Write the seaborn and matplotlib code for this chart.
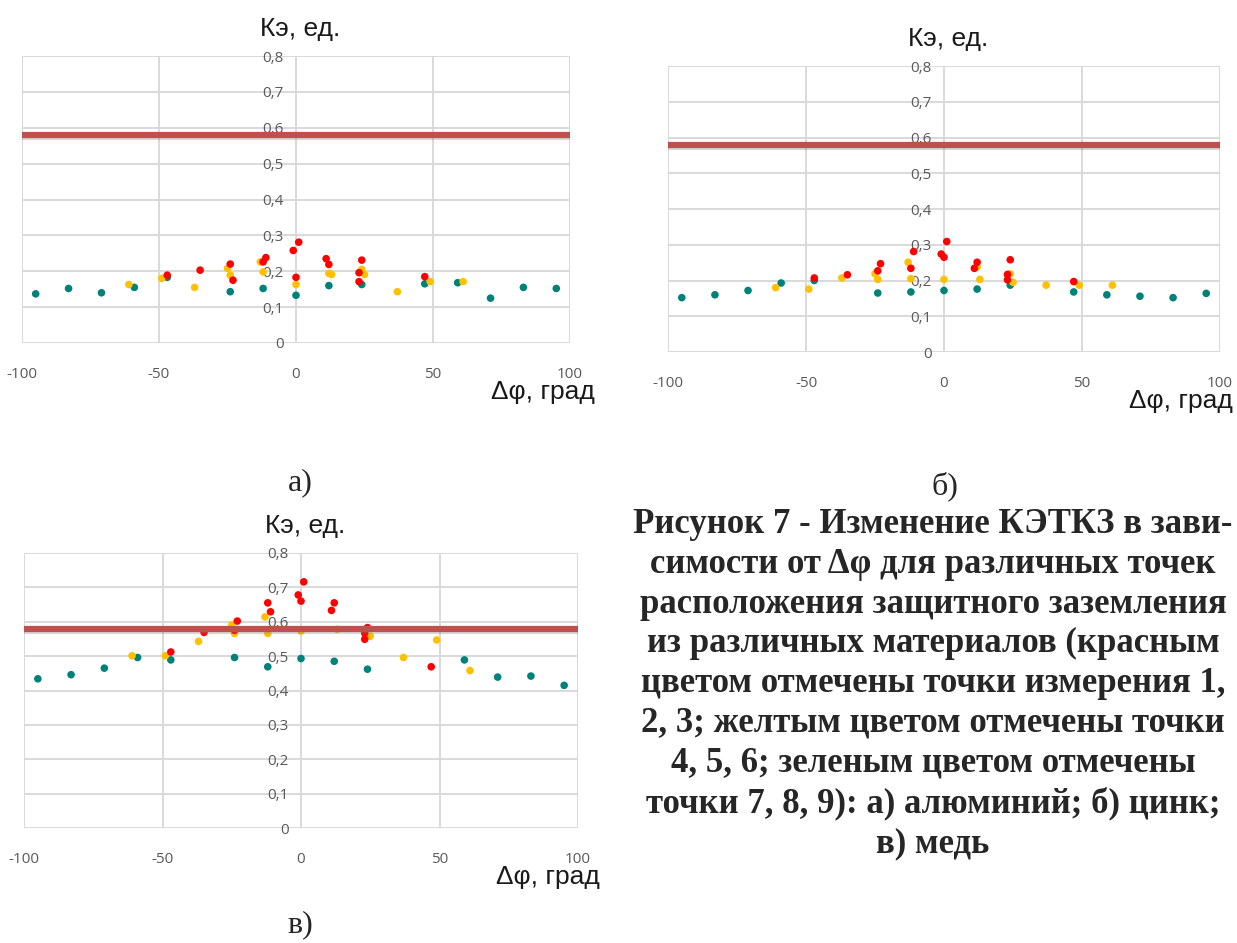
import matplotlib
matplotlib.use("Agg")
import matplotlib.pyplot as plt
import matplotlib.patheffects as pe
from matplotlib.ticker import FuncFormatter
import seaborn as sns
import pandas as pd

sns.set_theme(style="white")
plt.rcParams['font.family'] = ['Liberation Sans', 'DejaVu Sans']
plt.rcParams['axes.unicode_minus'] = False

# ---------------- data ----------------
# panel a) aluminium
a_green_x = [-95, -83, -71, -59, -47, -24, -12, 0, 12, 24, 47, 59, 71, 83, 95]
a_green_y = [0.137, 0.152, 0.140, 0.155, 0.183, 0.143, 0.152, 0.133, 0.160, 0.163, 0.165, 0.168, 0.125, 0.155, 0.152]
a_yel_x = [-61, -49, -37, -25, -24, -13, -12, 0, 12, 13, 24, 25, 37, 49, 61]
a_yel_y = [0.163, 0.180, 0.155, 0.208, 0.189, 0.226, 0.198, 0.163, 0.194, 0.191, 0.205, 0.191, 0.143, 0.171, 0.171]
a_red_x = [-47, -35, -24, -23, -12, -11, -1, 1, 0, 11, 12, 24, 23, 23, 47]
a_red_y = [0.189, 0.203, 0.220, 0.175, 0.226, 0.238, 0.258, 0.281, 0.183, 0.235, 0.219, 0.231, 0.196, 0.171, 0.185]

# panel б) zinc
b_green_x = [-95, -83, -71, -59, -47, -24, -12, 0, 12, 24, 47, 59, 71, 83, 95]
b_green_y = [0.152, 0.160, 0.172, 0.193, 0.200, 0.165, 0.168, 0.172, 0.176, 0.187, 0.168, 0.160, 0.156, 0.152, 0.164]
b_yel_x = [-61, -49, -37, -25, -24, -13, -12, 0, 12, 13, 24, 25, 37, 49, 61]
b_yel_y = [0.180, 0.176, 0.207, 0.219, 0.203, 0.251, 0.205, 0.203, 0.238, 0.203, 0.219, 0.195, 0.187, 0.187, 0.187]
b_red_x = [-47, -35, -24, -23, -12, -11, -1, 0, 1, 11, 12, 23, 23, 24, 47]
b_red_y = [0.207, 0.216, 0.227, 0.247, 0.234, 0.281, 0.274, 0.265, 0.309, 0.234, 0.251, 0.217, 0.202, 0.258, 0.197]

# panel в) copper
c_green_x = [-95, -83, -71, -59, -47, -24, -12, 0, 12, 24, 59, 71, 83, 95]
c_green_y = [0.434, 0.446, 0.465, 0.496, 0.489, 0.496, 0.469, 0.493, 0.485, 0.462, 0.489, 0.439, 0.442, 0.415]
c_yel_x = [-61, -49, -37, -25, -24, -13, -12, 0, 13, 25, 37, 49, 61]
c_yel_y = [0.501, 0.501, 0.543, 0.591, 0.566, 0.614, 0.566, 0.573, 0.578, 0.558, 0.496, 0.547, 0.458]
c_red_x = [-47, -35, -24, -23, -12, -11, -1, 0, 1, 11, 12, 23, 23, 24, 47]
c_red_y = [0.512, 0.569, 0.575, 0.602, 0.655, 0.629, 0.678, 0.660, 0.716, 0.633, 0.655, 0.567, 0.549, 0.583, 0.469]

limit_value = 0.58
x_ticks = [-100, -50, 0, 50, 100]
y_ticks = [0, 0.1, 0.2, 0.3, 0.4, 0.5, 0.6, 0.7, 0.8]
y_title = "Кэ, ед."
x_title = "Δφ, град"
panel_labels = ["а)", "б)", "в)"]
caption = ("Рисунок 7 - Изменение КЭТКЗ в зави-\n"
           "симости от Δφ для различных точек\n"
           "расположения защитного заземления\n"
           "из различных материалов (красным\n"
           "цветом отмечены точки измерения 1,\n"
           "2, 3; желтым цветом отмечены точки\n"
           "4, 5, 6; зеленым цветом отмечены\n"
           "точки 7, 8, 9): а) алюминий; б) цинк;\n"
           "в) медь")

palette = {"green": "#00827A", "yellow": "#FFC000", "red": "#FF0000"}


def make_df(gx, gy, yx, yy, rx, ry):
    rows = []
    for grp, xs, ys in (("green", gx, gy), ("yellow", yx, yy), ("red", rx, ry)):
        for x, y in zip(xs, ys):
            rows.append({"dphi": x, "k": y, "grp": grp})
    return pd.DataFrame(rows)


panels = [
    make_df(a_green_x, a_green_y, a_yel_x, a_yel_y, a_red_x, a_red_y),
    make_df(b_green_x, b_green_y, b_yel_x, b_yel_y, b_red_x, b_red_y),
    make_df(c_green_x, c_green_y, c_yel_x, c_yel_y, c_red_x, c_red_y),
]

W, H = 1237, 943
fig = plt.figure(figsize=(W / 100, H / 100), dpi=100)
fig.patch.set_facecolor("white")

# pixel boxes: (left, right, top(0.8), bottom(0))
boxes = [(22, 570, 56, 343), (668, 1220, 66, 352), (24, 578, 553, 828)]
xlabel_right = [595, 1233, 600]
label_pos = [(300, 483), (945, 486), (300, 925)]

fmt = FuncFormatter(lambda v, p: ("%g" % round(v, 2)).replace(".", ","))

for i, df in enumerate(panels):
    l, r, t, b = boxes[i]
    ax = fig.add_axes([l / W, 1 - b / H, (r - l) / W, (b - t) / H])
    ax.set_xlim(-100, 100)
    ax.set_ylim(0, 0.8)
    ax.set_xticks(x_ticks)
    ax.set_yticks(y_ticks)
    ax.grid(True, color="#D9D9D9", lw=1.4)
    ax.set_axisbelow(True)
    for s in ax.spines.values():
        s.set_visible(False)
    ax.spines['left'].set_position(('data', 0))
    ax.yaxis.set_major_formatter(fmt)
    ax.tick_params(axis='y', length=0, pad=9, labelsize=11, labelcolor="#595959")
    ax.tick_params(axis='x', length=0, pad=17, labelsize=11, labelcolor="#595959")
    for tl in ax.get_xticklabels() + ax.get_yticklabels():
        tl.set_fontfamily(["Open Sans", "DejaVu Sans"])

    sns.scatterplot(data=df, x="dphi", y="k", hue="grp", palette=palette,
                    hue_order=["green", "yellow", "red"], s=30, linewidth=0,
                    legend=False, ax=ax, zorder=3)
    ax.set_xlabel("")
    ax.set_ylabel("")
    ax.axhline(limit_value, color="#C0504D", lw=4.5, zorder=4,
               path_effects=[pe.SimpleLineShadow(offset=(0, -1.5), shadow_color="gray", alpha=0.3),
                             pe.Normal()])

    cx = (l + r) / 2 + 4
    fig.text(cx / W, 1 - (t - 27) / H, y_title, ha="center", va="center", fontsize=19, color="#1a1a1a")
    fig.text(xlabel_right[i] / W, 1 - (b + 49) / H, x_title, ha="right", va="center",
             fontsize=19, color="#1a1a1a")
    fig.text(label_pos[i][0] / W, 1 - label_pos[i][1] / H, panel_labels[i],
             ha="center", va="center", fontsize=23, family=["Liberation Serif"])

fig.text(933 / W, 1 - 684 / H, caption, ha="center", va="center", fontsize=25,
         family=["Liberation Serif"], weight="bold", linespacing=1.27)

fig.savefig("out.png", dpi=100, facecolor="white")
